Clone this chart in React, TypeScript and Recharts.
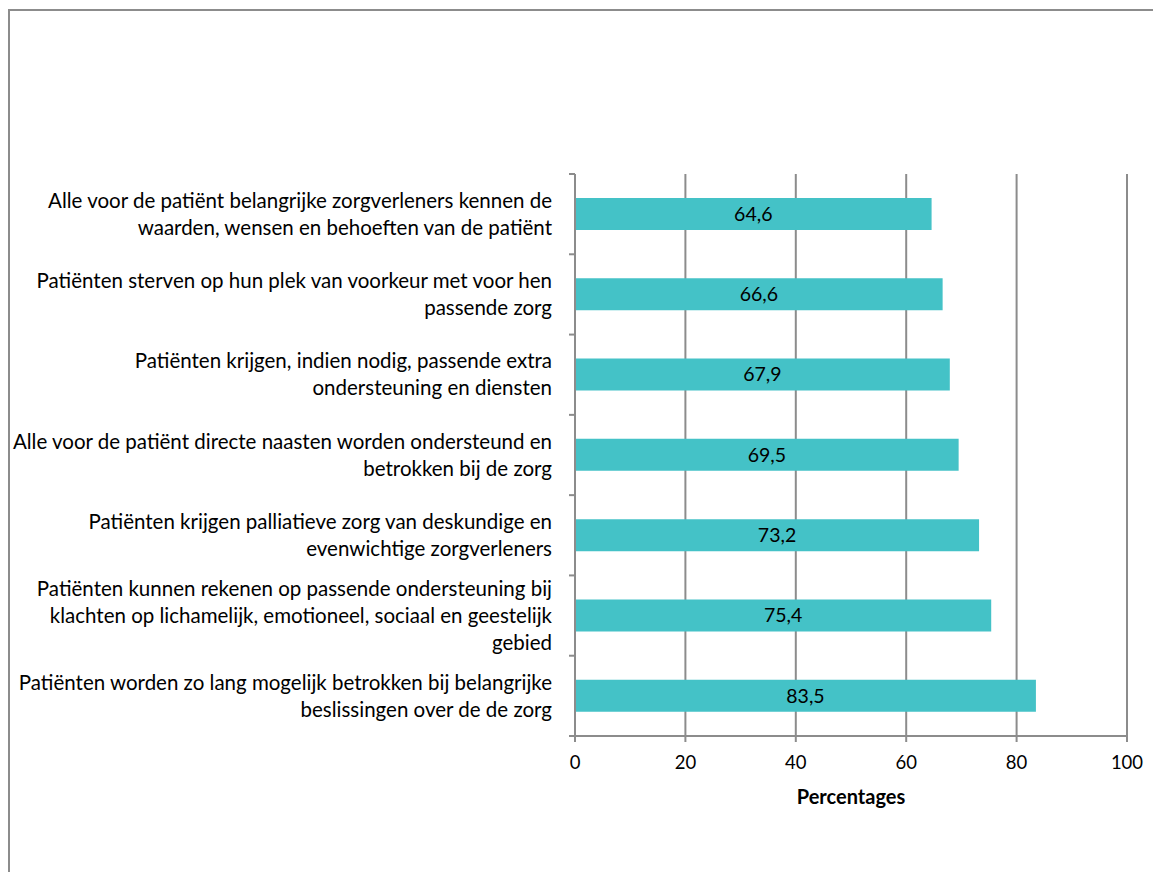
import React from "react";
import {
  BarChart,
  Bar,
  XAxis,
  YAxis,
  CartesianGrid,
  LabelList,
} from "recharts";

// categories top to bottom, wrapped as in the original
const CATEGORIES = [
  "Alle voor de patiënt belangrijke zorgverleners kennen de\nwaarden, wensen en behoeften van de patiënt",
  "Patiënten sterven op hun plek van voorkeur met voor hen\npassende zorg",
  "Patiënten krijgen, indien nodig, passende extra\nondersteuning en diensten",
  "Alle voor de patiënt directe naasten worden ondersteund en\nbetrokken bij de zorg",
  "Patiënten krijgen palliatieve zorg van deskundige en\nevenwichtige zorgverleners",
  "Patiënten kunnen rekenen op passende ondersteuning bij\nklachten op lichamelijk, emotioneel, sociaal en geestelijk\ngebied",
  "Patiënten worden zo lang mogelijk betrokken bij belangrijke\nbeslissingen over de de zorg",
];
const VALUES = [64.6, 66.6, 67.9, 69.5, 73.2, 75.4, 83.5];
const X_TICKS = [0, 20, 40, 60, 80, 100];

const data = CATEGORIES.map((name, i) => ({ name, value: VALUES[i] }));

const FONT = "Lato, sans-serif";
const GRAY = "#8c8c8c";
const W = 1143;
const H = 861;
const AXIS_X = 565;
const PLOT_TOP = 163;
const PLOT_BOTTOM = 725;
const BAND = (PLOT_BOTTOM - PLOT_TOP) / CATEGORIES.length;

// category label plus the boundary tick marks Excel draws between bands
function CategoryTick(props: any) {
  const { y, payload, index } = props;
  const lines: string[] = String(payload.value).split("\n");
  const lh = 27;
  const start = y - ((lines.length - 1) * lh) / 2;
  const top = y - BAND / 2;
  return (
    <g>
      <line x1={AXIS_X - 6} x2={AXIS_X} y1={top} y2={top} stroke={GRAY} strokeWidth={2} />
      {index === CATEGORIES.length - 1 && (
        <line x1={AXIS_X - 6} x2={AXIS_X} y1={top + BAND} y2={top + BAND} stroke={GRAY} strokeWidth={2} />
      )}
      <text textAnchor="end" fontFamily={FONT} fontSize={20.5} fill="#000">
        {lines.map((l, i) => (
          <tspan key={i} x={542} y={start + i * lh} dy="0.35em">
            {l}
          </tspan>
        ))}
      </text>
    </g>
  );
}

export default function App() {
  return (
    <div
      style={{
        position: "fixed",
        left: 8,
        top: 9,
        width: 1145,
        height: 863,
        borderTop: `2px solid ${GRAY}`,
        borderLeft: `2px solid ${GRAY}`,
        boxSizing: "border-box",
        overflow: "hidden",
        background: "#fff",
      }}
    >
      <BarChart
        width={W}
        height={H}
        data={data}
        layout="vertical"
        margin={{ top: PLOT_TOP, right: 26, left: 0, bottom: H - PLOT_BOTTOM - 50 }}
      >
        <CartesianGrid horizontal={false} stroke={GRAY} strokeWidth={2} />
        <XAxis
          type="number"
          domain={[0, 100]}
          ticks={X_TICKS}
          interval={0}
          height={50}
          stroke={GRAY}
          strokeWidth={2}
          tickSize={6}
          tickMargin={14}
          tick={{ fill: "#000", fontSize: 18.5, fontFamily: FONT }}
          label={{
            value: "Percentages",
            position: "bottom",
            offset: 4,
            fill: "#000",
            fontSize: 20,
            fontWeight: "bold",
            fontFamily: FONT,
          }}
        />
        <YAxis
          type="category"
          dataKey="name"
          width={AXIS_X}
          stroke={GRAY}
          strokeWidth={2}
          tickLine={false}
          interval={0}
          tick={<CategoryTick />}
        />
        <Bar dataKey="value" fill="#44C2C7" barSize={32} isAnimationActive={false}>
          <LabelList
            dataKey="value"
            position="center"
            formatter={(v: any) => String(v).replace(".", ",")}
            fill="#000"
            fontSize={19.5}
            fontFamily={FONT}
          />
        </Bar>
      </BarChart>
    </div>
  );
}
